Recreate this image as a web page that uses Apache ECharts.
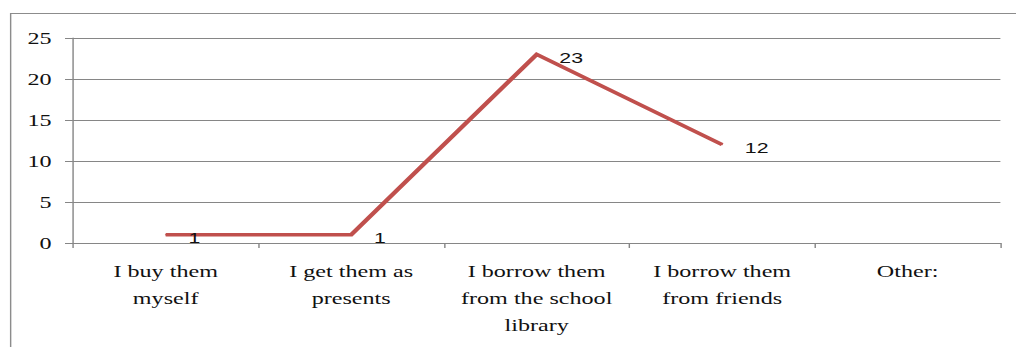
<!DOCTYPE html>
<html>
<head>
<meta charset="utf-8">
<script src="https://cdn.jsdelivr.net/npm/echarts@6/dist/echarts.min.js"></script>
<style>
html,body{margin:0;padding:0;background:#fff;overflow:hidden;width:1016px;height:347px;}
#chart{width:716px;height:347px;transform:scaleX(1.419);transform-origin:0 0;}
</style>
</head>
<body>
<div id="chart"></div>
<script>
const categories = [
  "I buy them\nmyself",
  "I get them as\npresents",
  "I borrow them\nfrom the school\nlibrary",
  "I borrow them\nfrom friends",
  "Other:"
];
const values = [1, 1, 23, 12, null];
const yTicks = { min: 0, max: 25, interval: 5 };

const SERIF = "Liberation Serif, Tinos, Times New Roman, DejaVu Serif";
const SANS = "Liberation Sans";

const chart = echarts.init(document.getElementById('chart'), null, { renderer: 'svg' });
chart.setOption({
  animation: false,
  backgroundColor: '#ffffff',
  graphic: [{
    type: 'rect',
    shape: { x: 7.5, y: 13.5, width: 760, height: 400 },
    style: { fill: 'none', stroke: '#8c8c8c', lineWidth: 1 },
    silent: true
  }],
  grid: { left: 51.4, right: 11, top: 38, bottom: 104, containLabel: false },
  xAxis: {
    type: 'category',
    data: categories,
    boundaryGap: true,
    axisLine: { show: true, lineStyle: { color: '#868686', width: 1 } },
    axisTick: { show: true, length: 5, lineStyle: { color: '#868686' } },
    axisLabel: {
      interval: 0,
      margin: 15,
      color: '#111',
      fontFamily: SERIF,
      fontSize: 17,
      lineHeight: 27,
      align: 'center'
    },
    splitLine: { show: false }
  },
  yAxis: {
    type: 'value',
    min: yTicks.min,
    max: yTicks.max,
    interval: yTicks.interval,
    axisLine: { show: true, lineStyle: { color: '#868686', width: 1 } },
    axisTick: { show: true, length: 5.6, lineStyle: { color: '#868686' } },
    axisLabel: {
      margin: 15,
      color: '#111',
      fontFamily: SERIF,
      fontSize: 17
    },
    splitLine: { show: true, lineStyle: { color: '#868686', width: 1 } }
  },
  series: [{
    type: 'line',
    data: values,
    connectNulls: false,
    symbol: 'circle',
    symbolSize: 1,
    showSymbol: true,
    itemStyle: { color: '#C0504D' },
    lineStyle: { color: '#C0504D', width: 3.5, join: 'miter' },
    label: {
      show: true,
      position: 'inside',
      align: 'left',
      verticalAlign: 'middle',
      offset: [16, 3],
      color: '#111',
      fontFamily: SANS,
      fontSize: 15
    }
  }]
});
</script>
</body>
</html>
